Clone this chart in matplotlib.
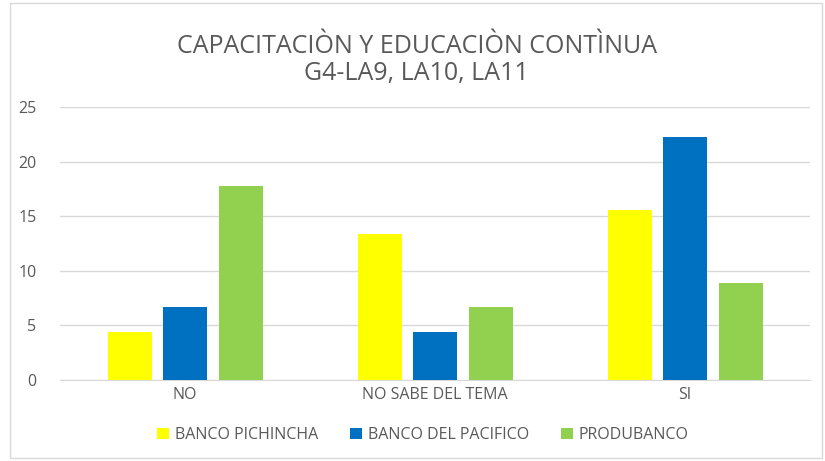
import matplotlib
matplotlib.use("Agg")
import matplotlib.pyplot as plt
import numpy as np
from matplotlib.patches import Rectangle

categories = ["NO", "NO SABE DEL TEMA", "SI"]
series_names = ["BANCO PICHINCHA", "BANCO DEL PACIFICO", "PRODUBANCO"]
banco_pichincha = [4.44, 13.33, 15.56]
banco_pacifico = [6.67, 4.44, 22.22]
produbanco = [17.78, 6.67, 8.89]
colors = ["#FFFF00", "#0070C0", "#92D050"]
yticks = [0, 5, 10, 15, 20, 25]

plt.rcParams['font.family'] = ['Open Sans', 'DejaVu Sans']
fig = plt.figure(figsize=(8.25, 4.61), dpi=100)
ax = fig.add_axes([60/825, 81/461, 750/825, 273/461])

x = np.arange(len(categories))
w = 0.176
step = 0.222
for i, (vals, name, c) in enumerate(zip([banco_pichincha, banco_pacifico, produbanco], series_names, colors)):
    ax.bar(x + (i - 1) * step, vals, width=w, color=c, label=name, zorder=3)

ax.set_xlim(-0.5, 2.5)
ax.set_ylim(0, 25)
ax.set_yticks(yticks)
ax.grid(axis='y', color='#D9D9D9', linewidth=1, zorder=0)
for s in ax.spines.values():
    s.set_visible(False)
ax.spines['bottom'].set_visible(True)
ax.spines['bottom'].set_color('#D9D9D9')
ax.tick_params(axis='both', length=0, colors='#595959', labelsize=11.5)
ax.tick_params(axis='y', pad=17)
ax.tick_params(axis='x', pad=5)
ax.set_xticks(x)
ax.set_xticklabels(categories)

fig.text(0.505, 1 - 60/461, "CAPACITACIÒN Y EDUCACIÒN CONTÌNUA\nG4-LA9, LA10, LA11",
         ha='center', va='center', fontsize=18, color='#595959', linespacing=1.1)

leg = ax.legend(loc='center', ncol=3,
                frameon=False, fontsize=11.5, handlelength=0.75, handleheight=0.75,
                columnspacing=2.0, handletextpad=0.35)
for t in leg.get_texts():
    t.set_color('#595959')
leg.set_bbox_to_anchor((0.5 - 12/750, (461 - 435 - 81) / 273), transform=ax.transAxes)

fig.patches.append(Rectangle((10/825, 3/461), 812/825, 455/461, transform=fig.transFigure,
                             fill=False, edgecolor='#D9D9D9', linewidth=1))
fig.savefig("out.png", dpi=100)
